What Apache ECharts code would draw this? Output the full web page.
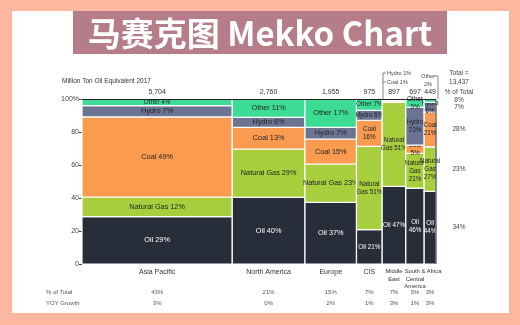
<!DOCTYPE html>
<html><head><meta charset="utf-8">
<script src="https://cdn.jsdelivr.net/npm/echarts@6/dist/echarts.min.js"></script>
<style>html,body{margin:0;padding:0;background:#fdb7a1;}#c{width:520px;height:325px;}</style>
</head><body><div id="c"></div>
<script>
const regions = ['Asia Pacific','North America','Europe','CIS','Middle\nEast','South &\nCentral\nAmerica','Africa'];
const totals = [5704, 2760, 1955, 975, 897, 697, 449];
const fuels = ['Oil','Natural Gas','Coal','Hydro','Other'];
const oil    = [29, 40, 37, 21, 47, 46, 44];
const natGas = [12, 29, 23, 51, 51, 21, 27];
const coal   = [49, 13, 15, 16, 1, 5, 21];
const hydro  = [7, 6, 7, 6, 1, 23, 6];
const other  = [4, 11, 17, 7, 0, 5, 2];
const shareOfTotal = ['43%','21%','15%','7%','7%','5%','3%'];
const yoyGrowth = ['3%','0%','2%','1%','3%','1%','3%'];
const fuelShareOfTotal = ['34%','23%','28%','7%','8%'];
const grandTotal = '13,437';
// custom labels for narrow columns
const narrowLabels = {
  3: ['Oil 21%','Natural\nGas 51%','Coal\n16%','Hydro 6%','Other 7%'],
  4: ['Oil 47%','Natural\nGas 51%','','',''],
  5: ['Oil\n46%','Natural\nGas\n21%','Coal\n5%','Hydro\n23%','Other\n5%'],
  6: ['Oil\n44%','Natural\nGas\n27%','Coal\n21%','Hydro\n6%','']
};
const colors = ['#282d3a','#a7cf3d','#fb9b50','#6b7492','#3ddc94'];
const coalMidEast = '#fcd9bf';

const series = [oil, natGas, coal, hydro, other];
const sumTotal = totals.reduce((a,b)=>a+b,0);
const items = [];
let x0 = 0;
totals.forEach((t, r) => {
  const vals = series.map(s => s[r]);
  const s = vals.reduce((a,b)=>a+b,0);
  let y0 = 0;
  vals.forEach((v, f) => {
    const y1 = y0 + v / s * 100;
    items.push([x0, x0 + t, y0, y1, f, r, v]);
    y0 = y1;
  });
  x0 += t;
});

const font = '"Liberation Sans", Arial, sans-serif';
const chart = echarts.init(document.getElementById('c'));

function renderItem(params, api) {
  const xa = api.value(0), xb = api.value(1), ya = api.value(2), yb = api.value(3);
  const f = api.value(4), r = api.value(5), v = api.value(6);
  const p0 = api.coord([xa, ya]);
  const p1 = api.coord([xb, yb]);
  const w = p1[0] - p0[0], h = p0[1] - p1[1];
  const cx = (p0[0] + p1[0]) / 2, cy = (p0[1] + p1[1]) / 2;
  const children = [];
  let fill = colors[f];
  if (r === 4 && f >= 2) fill = coalMidEast;
  if (h > 0.01) {
    children.push({type:'rect', shape:{x:p0[0], y:p1[1], width:w, height:h},
      style:{fill: fill, stroke:'#ffffff', lineWidth:1.2}});
  }
  let label = narrowLabels[r] ? narrowLabels[r][f] : (v > 0 ? fuels[f] + ' ' + v + '%' : '');
  if (label) {
    const small = (h < 10) || r >= 3;
    children.push({type:'text', style:{text: label, x: cx, y: cy, align:'center', verticalAlign:'middle',
      fill: f === 0 ? '#ffffff' : '#222222', font: (small ? '6.3px ' : '7.3px ') + font, lineHeight: 8}});
  }
  if (f === 0) {
    const lx = r === totals.length - 1 ? cx + 4 : cx;
    children.push({type:'text', style:{text: regions[r], x: lx, y: 268, align:'center', verticalAlign:'top',
      fill:'#333', font: (r >= 4 ? '5.8px ' : '7px ') + font, lineHeight: 7.5}});
    children.push({type:'text', style:{text: totals[r].toLocaleString('en-US'), x: cx, y: 92, align:'center', verticalAlign:'middle',
      fill:'#333', font:'7px ' + font}});
    children.push({type:'text', style:{text: shareOfTotal[r], x: cx, y: 292, align:'center', verticalAlign:'middle',
      fill:'#555', font:'6px ' + font}});
    children.push({type:'text', style:{text: yoyGrowth[r], x: cx, y: 303, align:'center', verticalAlign:'middle',
      fill:'#555', font:'6px ' + font}});
  }
  if (r === totals.length - 1) {
    children.push({type:'text', style:{text: fuelShareOfTotal[f], x: 459, y: cy, align:'center', verticalAlign:'middle',
      fill:'#444', font:'6.5px ' + font}});
  }
  return {type:'group', children};
}

chart.setOption({
  animation: false,
  backgroundColor: '#fdb7a1',
  grid: {left: 82, right: 84, top: 99, bottom: 61},
  xAxis: {type:'value', min:0, max: sumTotal, show:false},
  yAxis: {type:'value', min:0, max:100, interval:20,
    axisLine:{show:true, lineStyle:{color:'#333', width:1}},
    axisTick:{show:true, length:3, lineStyle:{color:'#333'}},
    splitLine:{show:false},
    axisLabel:{fontSize:7, color:'#444', fontFamily: font, margin:3,
      formatter: v => v === 100 ? '100%' : String(v)}},
  graphic: [
    {type:'rect', z:-10, shape:{x:12, y:11, width:497, height:302}, style:{fill:'#ffffff'}},
    {type:'rect', z:-9, shape:{x:73, y:11, width:374, height:43}, style:{fill:'#b57d89'}},
    {type:'text', z:-8, style:{text:'马赛克图 Mekko Chart', x:260, y:33, align:'center', verticalAlign:'middle',
      fill:'#ffffff', font:'bold 33px "Noto Sans CJK SC", sans-serif'}},
    {type:'text', style:{text:'Million Ton Oil Equivalent 2017', x:62, y:81, verticalAlign:'middle', fill:'#333', font:'6.5px ' + font}},
    {type:'text', style:{text:'Total =\n' + grandTotal, x:459, y:78, align:'center', verticalAlign:'middle', fill:'#444', font:'6.5px ' + font, lineHeight:9}},
    {type:'text', style:{text:'% of Total', x:459, y:92, align:'center', verticalAlign:'middle', fill:'#444', font:'6.5px ' + font}},
    {type:'text', style:{text:'% of Total', x:46, y:292, verticalAlign:'middle', fill:'#555', font:'6px ' + font}},
    {type:'text', style:{text:'YOY Growth', x:46, y:303, verticalAlign:'middle', fill:'#555', font:'6px ' + font}},
    // callouts
    {type:'polyline', z:50, shape:{points:[[386,73],[383,73],[383,99]]}, style:{stroke:'#666', lineWidth:0.8, fill:null}},
    {type:'polyline', z:50, shape:{points:[[383,82],[386,82]]}, style:{stroke:'#666', lineWidth:0.8, fill:null}},
    {type:'text', style:{text:'Hydro 1%', x:387, y:73, verticalAlign:'middle', fill:'#444', font:'5.5px ' + font}},
    {type:'text', style:{text:'Coal 1%', x:387, y:82, verticalAlign:'middle', fill:'#444', font:'5.5px ' + font}},
    {type:'polyline', z:50, shape:{points:[[434,76],[438,76],[438,99]]}, style:{stroke:'#666', lineWidth:0.8, fill:null}},
    {type:'text', style:{text:'Other\n2%', x:428, y:80, align:'center', verticalAlign:'middle', fill:'#444', font:'5.5px ' + font, lineHeight:8}},
    // frame top and right
    {type:'polyline', z:60, shape:{points:[[82,99.5],[436,99.5],[436,264]]}, style:{stroke:'#222', lineWidth:1, fill:null}}
  ],
  series: [{
    type:'custom', clip:false, renderItem, data: items,
    encode:{x:[0,1], y:[2,3]}
  }]
});
</script></body></html>
